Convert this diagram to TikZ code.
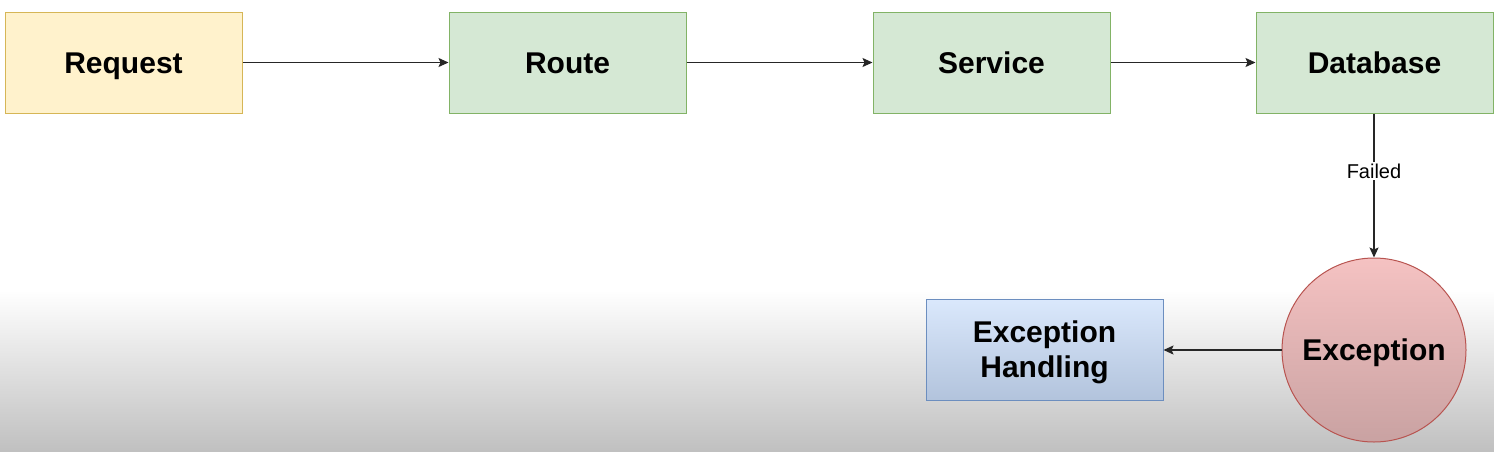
\documentclass[tikz,border=0pt]{standalone}
\usepackage{fontspec}
\setmainfont{Liberation Sans}
\usetikzlibrary{arrows.meta,shapes.geometric}
\definecolor{yfill}{HTML}{FFF2CC}
\definecolor{ydraw}{HTML}{D6B656}
\definecolor{gfill}{HTML}{D5E8D4}
\definecolor{gdraw}{HTML}{82B366}
\definecolor{rtop}{HTML}{F5C2C2}
\definecolor{rbot}{HTML}{C9A2A2}
\definecolor{rdraw}{HTML}{B85450}
\definecolor{btop}{HTML}{DAE8FC}
\definecolor{bbot}{HTML}{B2C3DC}
\definecolor{bdraw}{HTML}{6C8EBF}
\definecolor{bggray}{RGB}{192,192,192}
\tikzset{
  box/.style={rectangle, minimum width=237pt, minimum height=101pt, line width=1pt,
    font=\fontsize{30}{35}\selectfont\bfseries, align=center, inner sep=0pt},
  oneline/.style={text height=21pt, text depth=0pt},
  yellowbox/.style={box, oneline, fill=yfill, draw=ydraw},
  greenbox/.style={box, oneline, fill=gfill, draw=gdraw},
  bluebox/.style={box, top color=btop, bottom color=bbot, draw=bdraw,
    text height=55pt, text depth=0pt},
  redcircle/.style={circle, minimum size=184pt, inner sep=0pt, line width=1pt,
    top color=rtop, bottom color=rbot, draw=rdraw, oneline,
    font=\fontsize{30}{35}\selectfont\bfseries},
  conn/.style={line width=1.3pt, draw=black!85, -{Stealth[length=10pt,width=9pt,inset=2pt]}},
  lbl/.style={fill=white, font=\fontsize{20}{22}\selectfont, inner sep=2pt}
}
\begin{document}
\begin{tikzpicture}[x=1pt,y=-1pt]
\useasboundingbox (0,0) rectangle (1494,451);
\fill[white] (0,0) rectangle (1494,290);
\shade[top color=white, bottom color=bggray] (0,290) rectangle (1494,451);
\node[yellowbox] (req) at (123.5,62.5) {Request};
\node[greenbox] (route) at (567.5,62.5) {Route};
\node[greenbox] (svc) at (991.5,62.5) {Service};
\node[greenbox] (db) at (1374.5,62.5) {Database};
\node[redcircle] (exc) at (1374,350) {Exception};
\node[bluebox] (eh) at (1044.5,350) {Exception\\Handling};
\draw[conn] (req) -- (route);
\draw[conn] (route) -- (svc);
\draw[conn] (svc) -- (db);
\draw[conn] (db.south -| exc.north) -- node[lbl, pos=0.4] {Failed} (exc.north);
\draw[conn] (exc) -- (eh);
\end{tikzpicture}
\end{document}
